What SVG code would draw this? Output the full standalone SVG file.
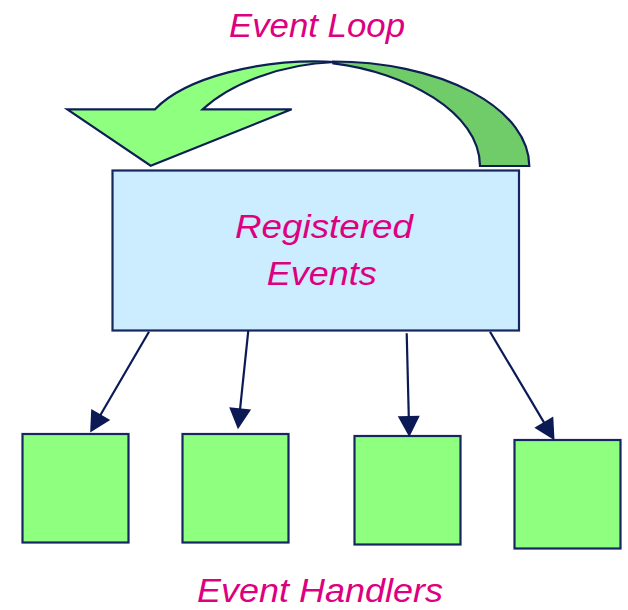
<svg xmlns="http://www.w3.org/2000/svg" width="628" height="610" viewBox="0 0 628 610">
  <style>
    .label { font-family: "Liberation Sans", Arial, sans-serif; font-style: italic; font-size: 34px; fill: #DD0080; text-anchor: middle; }
    .box { stroke: #16265E; stroke-width: 2.2; }
    .events { fill: #CCECFF; }
    .handler { fill: #8FFF80; }
    .loop-front { fill: #8FFF80; stroke: #0F1F55; stroke-width: 2.2; stroke-linejoin: miter; }
    .loop-back { fill: #70CC68; stroke: #0F1F55; stroke-width: 2.2; }
    .conn { fill: none; stroke: #0B1A55; stroke-width: 2.2; marker-end: url(#head); }
  </style>
  <defs>
    <marker id="head" markerUnits="userSpaceOnUse" markerWidth="21" markerHeight="22" refX="9" refY="11" orient="auto" overflow="visible">
      <path d="M0,0 L21,11 L0,22 Z" fill="#0B1A55"/>
    </marker>
  </defs>

  <rect width="628" height="610" fill="#FFFFFF"/>

  <!-- curved loop arrow: back face first, front face with the head on top -->
  <g id="event-loop">
    <path class="loop-back" d="M333.3,61.5 A196,104.5 0 0 1 529.3,166 L480,166 C480,112 405,72 333.3,63.3 Z"/>
    <path class="loop-front" d="M155,109.3 L67.3,109.3 L150.7,165.7 L291.7,109.3 L202.7,109.3 C230,84 280,64 335,62 C260,58 185,78 155,109.3 Z"/>
    <text class="label" x="317" y="37" textLength="176" lengthAdjust="spacingAndGlyphs">Event Loop</text>
  </g>

  <!-- registered events -->
  <g id="registered-events">
    <rect class="box events" x="112.5" y="170.5" width="406.5" height="160"/>
    <text class="label" x="324" y="238" textLength="178" lengthAdjust="spacingAndGlyphs">Registered</text>
    <text class="label" x="321.7" y="285" textLength="110" lengthAdjust="spacingAndGlyphs">Events</text>
  </g>

  <!-- handlers -->
  <g id="handler-1">
    <rect class="box handler" x="22.5" y="434" width="106" height="108.5"/>
  </g>
  <g id="handler-2">
    <rect class="box handler" x="182.5" y="434" width="106" height="108.5"/>
  </g>
  <g id="handler-3">
    <rect class="box handler" x="354.5" y="436" width="106" height="108.5"/>
  </g>
  <g id="handler-4">
    <rect class="box handler" x="514.5" y="440" width="106" height="108.5"/>
  </g>

  <!-- dispatch connectors -->
  <g id="connectors">
    <path class="conn" d="M149,331.7 L96.2,422.2"/>
    <path class="conn" d="M248.3,330.7 L239.2,417.4"/>
    <path class="conn" d="M406.7,333.3 L409,425"/>
    <path class="conn" d="M490,331.7 L548.4,429.9"/>
  </g>

  <text class="label" x="320" y="602" textLength="246" lengthAdjust="spacingAndGlyphs">Event Handlers</text>
</svg>
